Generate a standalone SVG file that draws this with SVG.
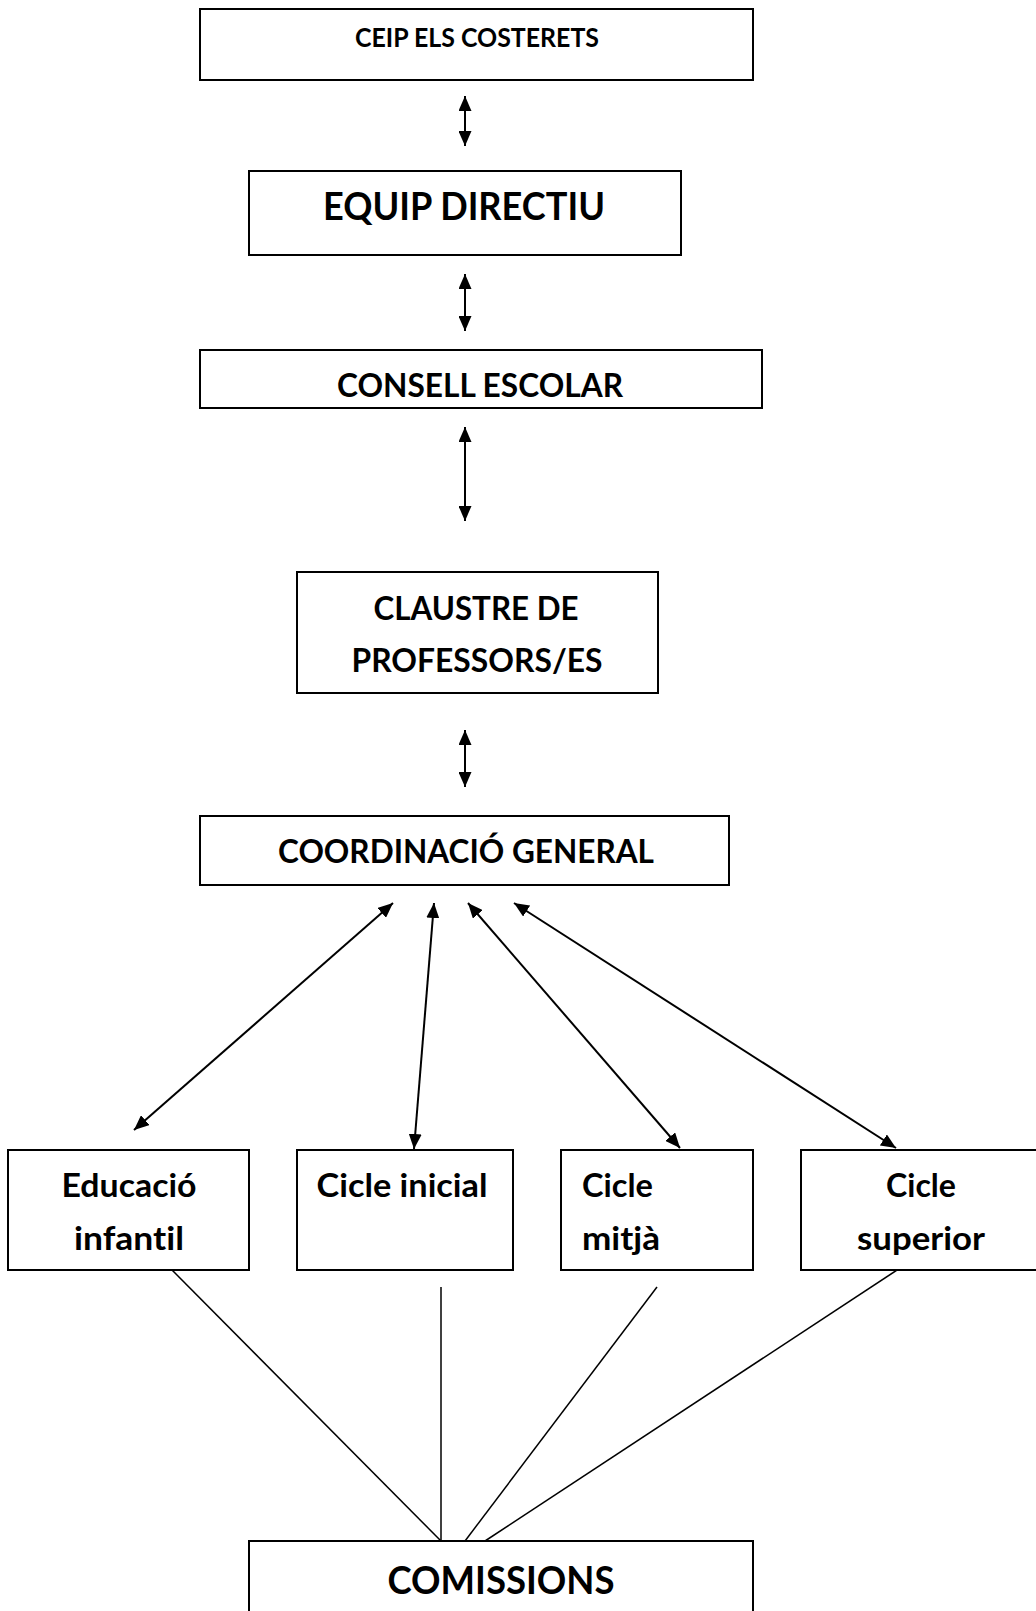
<svg xmlns="http://www.w3.org/2000/svg" width="1036" height="1611" viewBox="0 0 1036 1611">
<defs>
<marker id="ah" markerUnits="userSpaceOnUse" markerWidth="15" markerHeight="13" refX="15" refY="6.5" orient="auto-start-reverse" viewBox="0 0 15 13"><path d="M0,0 L15,6.5 L0,13 z" fill="#000"/></marker>
</defs>
<style>
.box{fill:#fff;stroke:#000;stroke-width:2}
.t{font-family:Lato,"Liberation Sans",sans-serif;font-weight:700;fill:#000;font-variant-ligatures:none}
.arr{stroke:#000;stroke-width:2;fill:none;marker-start:url(#ah);marker-end:url(#ah)}
.ln{stroke:#000;stroke-width:1.5;fill:none}
</style>
<rect width="1036" height="1611" fill="#fff"/>
<g id="connectors">
<line class="arr" x1="465" y1="96" x2="465" y2="146"/>
<line class="arr" x1="465" y1="274" x2="465" y2="331"/>
<line class="arr" x1="465" y1="427" x2="465" y2="521"/>
<line class="arr" x1="465" y1="730" x2="465" y2="787"/>
<line class="arr" x1="393" y1="903" x2="134" y2="1130"/>
<line class="arr" x1="434" y1="903" x2="414" y2="1149"/>
<line class="arr" x1="468" y1="903" x2="680" y2="1148"/>
<line class="arr" x1="514" y1="903" x2="896" y2="1148"/>
<line class="ln" x1="172" y1="1270" x2="441" y2="1541"/>
<line class="ln" x1="441" y1="1287" x2="441" y2="1541"/>
<line class="ln" x1="657" y1="1287" x2="465" y2="1541"/>
<line class="ln" x1="897" y1="1270" x2="485" y2="1541"/>
</g>
<g id="ceip">
<rect class="box" x="200" y="9" width="553" height="71"/>
<text class="t" x="477" y="47" font-size="26" text-anchor="middle" textLength="244" lengthAdjust="spacingAndGlyphs">CEIP ELS COSTERETS</text>
</g>
<g id="equip">
<rect class="box" x="249" y="171" width="432" height="84"/>
<text class="t" x="464" y="220" font-size="39" text-anchor="middle" textLength="282" lengthAdjust="spacingAndGlyphs">EQUIP DIRECTIU</text>
</g>
<g id="consell">
<rect class="box" x="200" y="350" width="562" height="58"/>
<text class="t" x="480" y="397" font-size="33" text-anchor="middle" textLength="286" lengthAdjust="spacingAndGlyphs">CONSELL ESCOLAR</text>
</g>
<g id="claustre">
<rect class="box" x="297" y="572" width="361" height="121"/>
<text class="t" x="476" y="620" font-size="33" text-anchor="middle" textLength="205" lengthAdjust="spacingAndGlyphs">CLAUSTRE DE</text>
<text class="t" x="477" y="672" font-size="33" text-anchor="middle" textLength="251" lengthAdjust="spacingAndGlyphs">PROFESSORS/ES</text>
</g>
<g id="coordinacio">
<rect class="box" x="200" y="816" width="529" height="69"/>
<text class="t" x="466" y="863" font-size="33" text-anchor="middle" textLength="376" lengthAdjust="spacingAndGlyphs">COORDINACIÓ GENERAL</text>
</g>
<g id="infantil">
<rect class="box" x="8" y="1150" width="241" height="120"/>
<text class="t" x="129" y="1197" font-size="33" text-anchor="middle" textLength="135" lengthAdjust="spacingAndGlyphs">Educació</text>
<text class="t" x="129" y="1250" font-size="33" text-anchor="middle" textLength="110" lengthAdjust="spacingAndGlyphs">infantil</text>
</g>
<g id="inicial">
<rect class="box" x="297" y="1150" width="216" height="120"/>
<text class="t" x="402" y="1197" font-size="33" text-anchor="middle" textLength="171" lengthAdjust="spacingAndGlyphs">Cicle inicial</text>
</g>
<g id="mitja">
<rect class="box" x="561" y="1150" width="192" height="120"/>
<text class="t" x="582" y="1197" font-size="33" textLength="71" lengthAdjust="spacingAndGlyphs">Cicle</text>
<text class="t" x="582" y="1250" font-size="33" textLength="78" lengthAdjust="spacingAndGlyphs">mitjà</text>
</g>
<g id="superior">
<rect class="box" x="801" y="1150" width="245" height="120"/>
<text class="t" x="921" y="1197" font-size="33" text-anchor="middle" textLength="70" lengthAdjust="spacingAndGlyphs">Cicle</text>
<text class="t" x="921" y="1250" font-size="33" text-anchor="middle" textLength="128" lengthAdjust="spacingAndGlyphs">superior</text>
</g>
<g id="comissions">
<rect class="box" x="249" y="1541" width="504" height="100"/>
<text class="t" x="501" y="1594" font-size="38" text-anchor="middle" textLength="227" lengthAdjust="spacingAndGlyphs">COMISSIONS</text>
</g>
</svg>
